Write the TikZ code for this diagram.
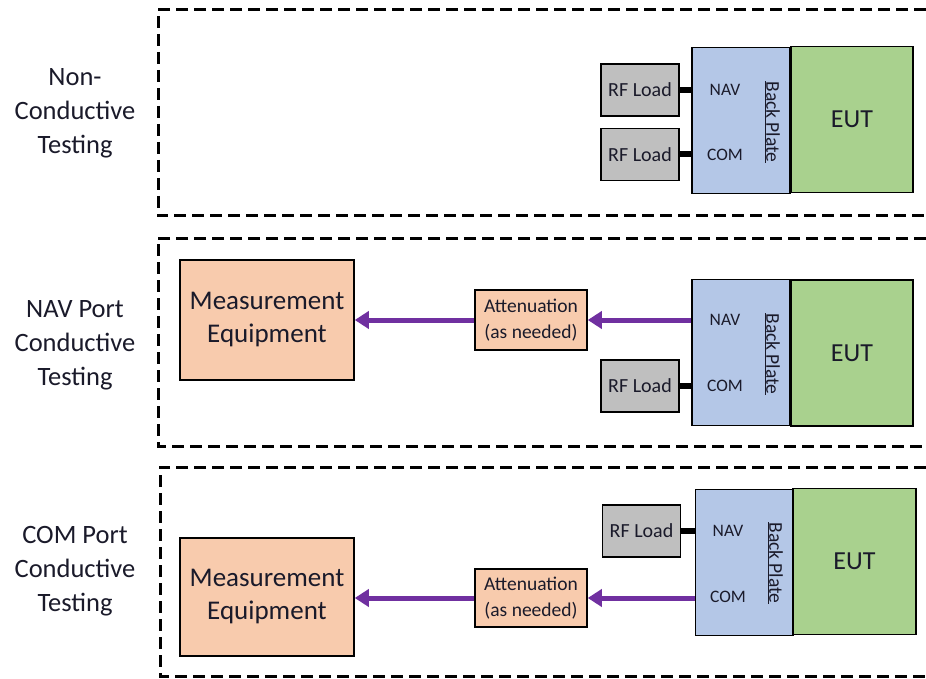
\documentclass[tikz,border=0pt]{standalone}
\usepackage{fontspec}
\setmainfont{Carlito}
\usetikzlibrary{arrows.meta}
\definecolor{rfgray}{HTML}{BFBFBF}
\definecolor{bpblue}{HTML}{B4C7E7}
\definecolor{eutgreen}{HTML}{A9D18E}
\definecolor{measorange}{HTML}{F8CBAD}
\definecolor{sigpurple}{HTML}{7030A0}
\definecolor{txt}{HTML}{1A1A2A}
\begin{document}
\begin{tikzpicture}[x=1pt,y=-1pt,
  box/.style={draw=black,line width=1.5pt,inner sep=0pt,text=txt,align=center},
  rfbox/.style={box,fill=rfgray,minimum width=78pt,minimum height=52pt,font=\fontsize{20}{22}\selectfont},
  bpbox/.style={box,fill=bpblue,minimum width=98pt,minimum height=146pt},
  eutbox/.style={box,fill=eutgreen,minimum width=122pt,minimum height=146pt,font=\fontsize{26}{28}\selectfont},
  measbox/.style={box,fill=measorange,minimum width=174pt,font=\fontsize{27}{33}\selectfont},
  attbox/.style={box,fill=measorange,minimum width=112pt,font=\fontsize{19.5}{26}\selectfont},
  port/.style={text=txt,font=\fontsize{17.5}{19}\selectfont,inner sep=0pt},
  bplabel/.style={text=txt,font=\fontsize{19.5}{21}\selectfont,rotate=-90,inner sep=0pt},
  sidelabel/.style={text=txt,align=center,font=\fontsize{26.5}{34}\selectfont},
  frame/.style={line width=3pt,dash pattern=on 12pt off 6pt},
  wire/.style={line width=6pt,black},
  sig/.style={line width=5pt,sigpurple,-{Triangle[length=14pt,width=17pt]}}
]
\useasboundingbox (0,0) rectangle (926,679);

% frames
\draw[frame] (926,10) -- (158,10) -- (158,216) -- (926,216);
\draw[frame] (926,238) -- (158,238) -- (158,446) -- (926,446);
\draw[frame] (926,467) -- (160,467) -- (160,676) -- (926,676);

% side labels
\node[sidelabel] (l1) at (75,113) {Non-\\Conductive\\Testing};
\node[sidelabel] (l2) at (75,345) {NAV Port\\Conductive\\Testing};
\node[sidelabel] (l3) at (75,571) {COM Port\\Conductive\\Testing};

% ---------- panel 1 ----------
\node[bpbox] (bp1) at (741,120.5) {};
\node[eutbox] (eut1) at (852,119.5) {EUT};
\node[port] (nav1) at (725,90) {NAV};
\node[port] (com1) at (725,155) {COM};
\node[bplabel] (bpl1) at (772,122) {\underline{Back Plate}};
\node[rfbox] (rf1a) at (640,90) {RF Load};
\node[rfbox] (rf1b) at (640,154.5) {RF Load};
\draw[wire] (rf1a.east) -- (rf1a.east -| bp1.west);
\draw[wire] (rf1b.east) -- (rf1b.east -| bp1.west);

% ---------- panel 2 ----------
\node[bpbox] (bp2) at (741,352.5) {};
\node[eutbox] (eut2) at (852,353) {EUT};
\node[port] (nav2) at (725,320) {NAV};
\node[port] (com2) at (725,386) {COM};
\node[bplabel] (bpl2) at (772,354) {\underline{Back Plate}};
\node[rfbox] (rf2) at (640,386) {RF Load};
\draw[wire] (rf2.east) -- (rf2.east -| bp2.west);
\node[measbox,minimum height=120pt] (meas2) at (267,320) {Measurement\\Equipment};
\node[attbox,minimum height=60pt] (att2) at (531,320) {Attenuation\\(as needed)};
\draw[sig] (nav2 -| bp2.west) -- (att2.east);
\draw[sig] (att2.west) -- (meas2.east |- att2.west);

% ---------- panel 3 ----------
\node[bpbox] (bp3) at (744.5,562.5) {};
\node[eutbox,minimum width=123pt] (eut3) at (854.5,561.5) {EUT};
\node[port] (nav3) at (728,531) {NAV};
\node[port] (com3) at (728,597) {COM};
\node[bplabel] (bpl3) at (775,563) {\underline{Back Plate}};
\node[rfbox] (rf3) at (641.5,531) {RF Load};
\draw[wire] (rf3.east) -- (rf3.east -| bp3.west);
\node[measbox,minimum height=118pt] (meas3) at (267,597) {Measurement\\Equipment};
\node[attbox,minimum height=58pt] (att3) at (531,598) {Attenuation\\(as needed)};
\draw[sig] (com3 -| bp3.west) ++(0,1) -- (att3.east);
\draw[sig] (att3.west) -- (meas3.east |- att3.west);
\end{tikzpicture}
\end{document}
